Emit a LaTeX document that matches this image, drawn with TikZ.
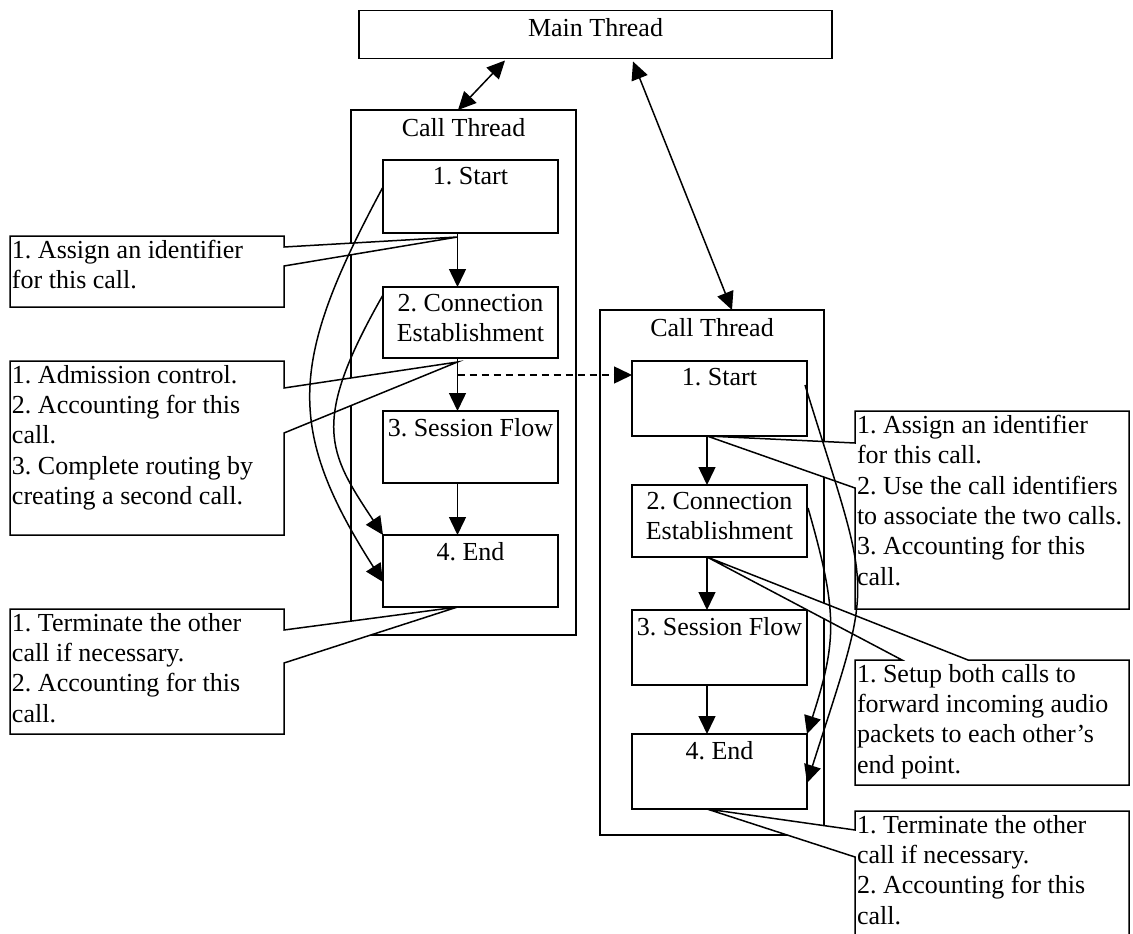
\documentclass[tikz,border=0pt]{standalone}
\usepackage{fontspec}
\setmainfont{Liberation Serif}
\usetikzlibrary{arrows.meta,calc}
\frenchspacing
\begin{document}
\begin{tikzpicture}[x=1pt,y=-1pt,
  every node/.style={font=\fontsize{26}{30.4}\selectfont, inner sep=0pt, outer sep=0pt},
  frame/.style={draw, line width=1.5pt},
  stepbox/.style={draw, line width=1.5pt, minimum width=175pt},
  lbl/.style={anchor=north, align=center},
  note/.style={anchor=north west, align=left},
  link/.style={line width=1.5pt, -{Triangle[length=18pt,width=17pt]}},
  both/.style={line width=1.5pt, {Triangle[length=18pt,width=17pt]}-{Triangle[length=18pt,width=17pt]}},
  flow/.style={link, dashed, dash pattern=on 7pt off 5pt},
  callout/.style={draw, fill=white, line width=1.5pt, line join=miter}]

\useasboundingbox (0,0) rectangle (1133,934);
\clip (0,0) rectangle (1133,934);
\fill[white] (0,0) rectangle (1133,934);

% main thread
\node[frame, minimum width=473pt, minimum height=48pt] (main) at (595.5,34.5) {};
\node[lbl] (mainlbl) at ($(main.north)+(0,7.5)$) {Main Thread};

% first call thread
\node[frame, minimum width=225pt, minimum height=525pt] (lct) at (463.5,372.5) {};
\node[lbl] (lctlbl) at ($(lct.north)+(0,8)$) {Call Thread};
\node[stepbox, minimum height=73pt] (ls)  at (470.5,196.5) {};
\node[stepbox, minimum height=71pt] (lc)  at (470.5,322.5) {};
\node[stepbox, minimum height=72pt] (lsf) at (470.5,447) {};
\node[stepbox, minimum height=72pt] (le)  at (470.5,571) {};
\node[lbl] (lslbl)  at ($(ls.north)+(0,7.5)$)  {1. Start};
\node[lbl] (lclbl)  at ($(lc.north)+(0,7)$)    {2. Connection\\Establishment};
\node[lbl] (lsflbl) at ($(lsf.north)+(0,7.5)$) {3. Session Flow};
\node[lbl] (lelbl)  at ($(le.north)+(0,7.5)$)  {4. End};

% second call thread
\node[frame, minimum width=224pt, minimum height=525pt] (rct) at (712,572.5) {};
\node[lbl] (rctlbl) at ($(rct.north)+(0,8)$) {Call Thread};
\node[stepbox, minimum height=75pt] (rs)  at (719.5,398.5) {};
\node[stepbox, minimum height=72pt] (rc)  at (719.5,521) {};
\node[stepbox, minimum height=75pt] (rsf) at (719.5,647.5) {};
\node[stepbox, minimum height=75pt] (re)  at (719.5,771.5) {};
\node[lbl] (rslbl)  at ($(rs.north)+(0,7.5)$)  {1. Start};
\node[lbl] (rclbl)  at ($(rc.north)+(0,7)$)    {2. Connection\\Establishment};
\node[lbl] (rsflbl) at ($(rsf.north)+(0,7.5)$) {3. Session Flow};
\node[lbl] (relbl)  at ($(re.north)+(0,7.5)$)  {4. End};

% step sequence
\draw[link] ([xshift=-13pt]ls.south)  -- ([xshift=-13pt]lc.north);
\draw[link] ([xshift=-13pt]lc.south)  -- ([xshift=-13pt]lsf.north);
\draw[link] ([xshift=-13pt]lsf.south) -- ([xshift=-13pt]le.north);
\draw[link] ([xshift=-12.5pt]rs.south)  -- ([xshift=-12.5pt]rc.north);
\draw[link] ([xshift=-12.5pt]rc.south)  -- ([xshift=-12.5pt]rsf.north);
\draw[link] ([xshift=-12.5pt]rsf.south) -- ([xshift=-12.5pt]re.north);

% second call created during connection establishment
\coordinate (dstart) at (457.5,375);
\draw[flow] (dstart) -- (dstart -| rs.west);

% threads talk to the main thread
\draw[both] ($(main.south)+(-90.5,2)$) -- ($(lct.north)+(-5.5,0)$);
\draw[both] ($(main.south)+(37.5,3)$) -- ($(rct.north)+(20,0)$);

% notes of the first call thread
\draw[callout] (10,236) -- (284,236) -- (284,247) -- ($(ls.south)+(-13,4)$)
  -- (284,266) -- (284,307) -- (10,307) -- cycle;
\node[note] (ln1) at (12,240) {1. Assign an identifier\\for this call.};
\draw[callout] (10,361) -- (284,361) -- (284,388) -- ($(lc.south)+(-13,4)$)
  -- (284,433) -- (284,535) -- (10,535) -- cycle;
\node[note] (ln2) at (12,365) {1. Admission control.\\2. Accounting for this\\call.\\3. Complete routing by\\creating a second call.};
\draw[callout] (10,609) -- (284,609) -- (284,630) -- ($(le.south)+(-13,0)$)
  -- (284,663) -- (284,734) -- (10,734) -- cycle;
\node[note] (ln3) at (12,613) {1. Terminate the other\\call if necessary.\\2. Accounting for this\\call.};

% notes of the second call thread
\draw[callout] (855,411) -- (1129,411) -- (1129,609) -- (855,609) -- (855,488)
  -- ($(rs.south)+(-12.5,0)$) -- (855,443) -- cycle;
\node[note] (rn1) at (857,415) {1. Assign an identifier\\for this call.\\2. Use the call identifiers\\to associate the two calls.\\3. Accounting for this\\call.};
\draw[callout] (855,660) -- (902,660) -- ($(rc.south)+(-12.5,0)$) -- (968,660)
  -- (1129,660) -- (1129,785) -- (855,785) -- cycle;
\node[note] (rn2) at (857,664) {1. Setup both calls to\\forward incoming audio\\packets to each other’s\\end point.};
\draw[callout] (855,811) -- (1129,811) -- (1129,960) -- (855,960) -- (855,857)
  -- ($(re.south)+(-12.5,0)$) -- (855,830) -- cycle;
\node[note] (rn3) at (857,815) {1. Terminate the other\\call if necessary.\\2. Accounting for this\\call.};

% jumps to the end step
\draw[link] ($(ls.north west)+(0,27)$) .. controls (290,360) and (284,427) .. ($(le.north west)+(0,47)$);
\draw[link] ($(lc.north west)+(0,8)$) .. controls (310,423) and (328,452) .. (le.north west);
\draw[link] ($(rs.north east)+(-2,24)$) .. controls (873,605) and (875,570) .. ($(re.north east)+(0,49)$);
\draw[link] ($(rc.north east)+(1,23)$) .. controls (838,612) and (837,641) .. (re.north east);
\end{tikzpicture}
\end{document}
